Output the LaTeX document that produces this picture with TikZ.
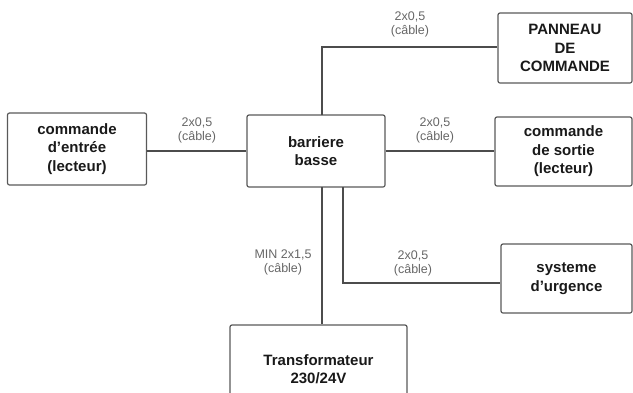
\documentclass[tikz,border=0pt]{standalone}
\usepackage{fontspec}
\setmainfont{Liberation Sans}
\begin{document}
\begin{tikzpicture}[x=1pt,y=-1pt,
  box/.style={draw=black!65, line width=1.2pt, rounded corners=2pt, align=center,
    font=\bfseries\fontsize{15}{18.5}\selectfont, text=black!90, inner sep=0pt},
  wire/.style={draw=black!70, line width=1.2pt},
  lbl/.style={font=\fontsize{12.5}{14}\selectfont, text=black!60, align=center, inner sep=0pt}]
\useasboundingbox (0,0) rectangle (633,392);
\clip (0,0) rectangle (633,392);
% boxes (positioned by pixel centres)
\node[box, minimum width=139pt, minimum height=72pt] (entree) at (77,149) {commande\\d’entrée\\(lecteur)};
\node[box, minimum width=138pt, minimum height=72pt] (barriere) at (316,151) {barriere\\basse};
\node[box, minimum width=134pt, minimum height=70pt] (panneau) at (565,48) {PANNEAU\\DE\\COMMANDE};
\node[box, minimum width=137pt, minimum height=69pt] (sortie) at (563.5,151.5) {commande\\de sortie\\(lecteur)};
\node[box, minimum width=131pt, minimum height=69pt] (urgence) at (566.5,278.5) {systeme\\d’urgence};
\node[box, minimum width=177pt, minimum height=88pt] (transfo) at (318.5,369) {};
\node[align=center, font=\bfseries\fontsize{15}{18.5}\selectfont, text=black!90] (transfotxt) at (318.5,369) {Transformateur\\230/24V};
% coordinates for bends
\coordinate (btop) at (322,115);
\coordinate (bendA) at (322,47);
\coordinate (bbot1) at (322,187);
\coordinate (bbot2) at (343,187);
\coordinate (bendB) at (343,283);
% wires
\draw[wire] (barriere.west -| entree.east) -- (barriere.west);
\draw[wire] (barriere.east) -- (barriere.east -| sortie.west);
\draw[wire] (btop) -- (bendA) -- (bendA -| panneau.west);
\draw[wire] (bbot1) -- (bbot1 |- transfo.north);
\draw[wire] (bbot2) -- (bendB) -- (bendB -| urgence.west);
% labels
\node[lbl] (l1) at (197,130) {2x0,5\\(câble)};
\node[lbl] (l2) at (410,24) {2x0,5\\(câble)};
\node[lbl] (l3) at (435,130) {2x0,5\\(câble)};
\node[lbl] (l4) at (283,262) {MIN 2x1,5\\(câble)};
\node[lbl] (l5) at (413,263) {2x0,5\\(câble)};
\end{tikzpicture}
\end{document}
